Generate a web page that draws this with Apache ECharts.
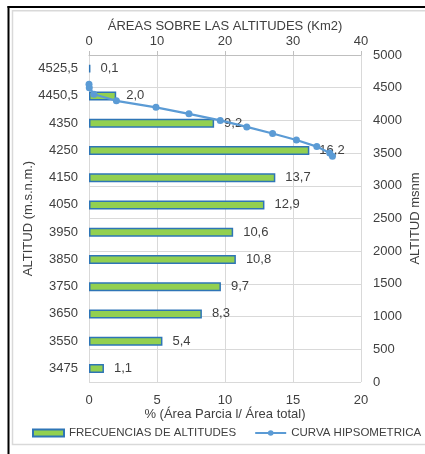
<!DOCTYPE html>
<html><head><meta charset="utf-8">
<script src="https://cdn.jsdelivr.net/npm/echarts@6/dist/echarts.min.js"></script>
<style>html,body{margin:0;padding:0;background:#fff;overflow:hidden}#c{width:425px;height:454px}</style>
</head><body><div id="c"></div>
<script>
// Altitude classes (bottom to top)
const categories = ['3475','3550','3650','3750','3850','3950','4050','4150','4250','4350','4450,5','4525,5'];
// % (Área parcial / Área total)
const frecuencias = [1.1, 5.4, 8.3, 9.7, 10.8, 10.6, 12.9, 13.7, 16.2, 9.2, 2.0, 0.1];
// Hypsometric curve: cumulative area above altitude (Km2) and altitude (msnm)
const curvaArea = [0, 0.04, 0.72, 4.03, 9.85, 14.7, 19.3, 23.2, 27.0, 30.5, 33.5, 35.4, 35.8];
const curvaAltitud = [4551, 4500, 4400, 4300, 4200, 4100, 4000, 3900, 3800, 3700, 3600, 3500, 3450];

const FONT = 'Liberation Sans, Arial, sans-serif';
const TXT = '#404040';
const GRID = '#d9d9d9';

const chart = echarts.init(document.getElementById('c'), null, {renderer: 'canvas', width: 425, height: 454});
const curva = curvaArea.map((a, i) => [a, curvaAltitud[i]]);
const fmt = v => v.toFixed(1).replace('.', ',');
const plain = v => String(v);

chart.setOption({
  backgroundColor: '#fff',
  animation: false,
  textStyle: {fontFamily: FONT, color: TXT},
  graphic: [
    {type: 'rect', shape: {x: 12.5, y: 10.75, width: 430, height: 433.75}, style: {fill: 'none', stroke: GRID, lineWidth: 1.5}, z: -1},
    {type: 'rect', shape: {x: 7.5, y: 6, width: 420, height: 2}, style: {fill: '#000'}},
    {type: 'rect', shape: {x: 7.5, y: 6, width: 2, height: 450}, style: {fill: '#000'}}
  ],
  grid: {left: 89, right: 64, top: 55, bottom: 72, containLabel: false, outerBoundsMode: 'none'},
  legend: {
    left: 32, top: 427, width: 393, padding: 0,
    itemWidth: 31, itemHeight: 7, itemGap: 18,
    textStyle: {fontFamily: FONT, fontSize: 11.5, color: TXT},
    data: [
      {name: 'FRECUENCIAS DE ALTITUDES', icon: 'rect'},
      {name: 'CURVA HIPSOMETRICA'}
    ]
  },
  xAxis: [
    {
      type: 'value', position: 'bottom', min: 0, max: 20, interval: 5,
      name: '% (Área Parcia l/ Área total)', nameLocation: 'middle', nameGap: 26, nameMoveOverlap: false,
      nameTextStyle: {fontFamily: FONT, fontSize: 13, color: TXT},
      axisLabel: {fontFamily: FONT, fontSize: 13, color: TXT, margin: 12, formatter: plain},
      axisLine: {show: false}, axisTick: {show: false},
      splitLine: {show: true, lineStyle: {color: GRID, width: 1}}
    },
    {
      type: 'value', position: 'top', min: 0, max: 40, interval: 10,
      name: 'ÁREAS SOBRE LAS ALTITUDES (Km2)', nameLocation: 'middle', nameGap: 22, nameMoveOverlap: false,
      nameTextStyle: {fontFamily: FONT, fontSize: 13, color: TXT},
      axisLabel: {fontFamily: FONT, fontSize: 13, color: TXT, margin: 7, formatter: plain},
      axisLine: {show: true, lineStyle: {color: '#bfbfbf', width: 1}},
      axisTick: {show: true, length: 4, lineStyle: {color: '#bfbfbf'}},
      splitLine: {show: false}
    }
  ],
  yAxis: [
    {
      type: 'category', position: 'left', data: categories,
      name: 'ALTITUD (m.s.n.m.)', nameLocation: 'middle', nameGap: 54, nameMoveOverlap: false,
      nameTextStyle: {fontFamily: FONT, fontSize: 13, color: TXT},
      axisLabel: {fontFamily: FONT, fontSize: 13, color: TXT, margin: 11},
      axisLine: {show: false}, axisTick: {show: false}, splitLine: {show: false}
    },
    {
      type: 'value', position: 'right', min: 0, max: 5000, interval: 500,
      name: 'ALTITUD msnm', nameLocation: 'middle', nameGap: 48, nameMoveOverlap: false,
      nameTextStyle: {fontFamily: FONT, fontSize: 13, color: TXT},
      axisLabel: {fontFamily: FONT, fontSize: 13, color: TXT, margin: 12, formatter: plain},
      axisLine: {show: false}, axisTick: {show: false},
      splitLine: {show: true, lineStyle: {color: GRID, width: 1}}
    }
  ],
  series: [
    {
      name: 'FRECUENCIAS DE ALTITUDES', type: 'bar',
      xAxisIndex: 0, yAxisIndex: 0,
      data: frecuencias, barWidth: 9,
      itemStyle: {color: '#92D050', borderColor: '#2E75B6', borderWidth: 1.5},
      label: {show: true, position: 'right', distance: 10, formatter: p => fmt(p.value),
              fontFamily: FONT, fontSize: 13, color: TXT}
    },
    {
      name: 'CURVA HIPSOMETRICA', type: 'line',
      xAxisIndex: 1, yAxisIndex: 1,
      data: curva, symbol: 'circle', symbolSize: 7,
      lineStyle: {color: '#5B9BD5', width: 2.25},
      itemStyle: {color: '#5B9BD5'}, z: 3
    }
  ]
});
</script></body></html>
